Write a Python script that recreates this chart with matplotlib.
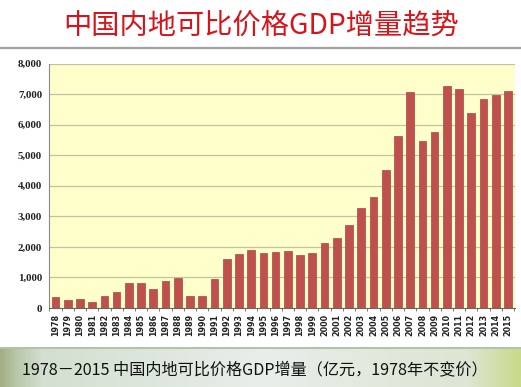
import numpy as np
import matplotlib
matplotlib.use("Agg")
import matplotlib.pyplot as plt
from matplotlib.colors import LinearSegmentedColormap

plt.rcParams['font.family'] = ['Noto Sans CJK SC', 'DejaVu Sans']

YEARS = list(range(1978, 2016))
GDP_INCREMENT = [370, 260, 290, 205, 400, 513, 807, 827, 611, 882,
                 970, 400, 380, 937, 1601, 1775, 1906, 1797, 1819, 1852,
                 1732, 1808, 2134, 2297, 2712, 3278, 3637, 4500, 5621, 7069,
                 5467, 5752, 7255, 7167, 6395, 6840, 6961, 7092]
Y_TICKS = [0, 1000, 2000, 3000, 4000, 5000, 6000, 7000, 8000]

TITLE = "中国内地可比价格GDP增量趋势"
CAPTION = "1978－2015 中国内地可比价格GDP增量（亿元，1978年不变价）"

W, H = 521, 387
fig = plt.figure(figsize=(W / 100, H / 100), dpi=100)
fig.patch.set_facecolor("white")

# ── caption band background (soft green gradient) ───────────────────────────
band = fig.add_axes([0, 0, 1, 40 / H])
grad_cmap = LinearSegmentedColormap.from_list(
    "band", [(0.0, "#a3ae86"), (0.03, "#b9c7a8"), (0.08, "#d3dfd0"),
             (0.5, "#e8eee9"), (0.9, "#dde5d4"), (1.0, "#c9da8a")])
band.imshow(np.linspace(0, 1, 256)[None, :], aspect="auto", cmap=grad_cmap,
            extent=[0, 1, 0, 1])
band.axhline(0.98, color="#b4c2a8", lw=1.5)
band.set_xlim(0, 1)
band.set_ylim(0, 1)
band.axis("off")
band.text(0.489, 0.42, CAPTION, ha="center", va="center", fontsize=11.6,
          fontweight="medium", color="#111111")

# ── title + rule ────────────────────────────────────────────────────────────
fig.text(0.501, 1 - 26 / H, TITLE, ha="center", va="center", fontsize=20.3,
         color="#d7141a")
fig.add_artist(plt.Line2D([0, 1], [1 - 48 / H, 1 - 48 / H],
                          color="#a0a0a0", lw=1.6, transform=fig.transFigure))

# ── bar chart ───────────────────────────────────────────────────────────────
ax = fig.add_axes([49 / W, 1 - 308 / H, (515 - 49) / W, (308 - 63.5) / H])
ax.set_facecolor("#ffffcc")
x = np.arange(len(YEARS))
ax.bar(x, GDP_INCREMENT, width=0.63, color="#c0504d", edgecolor="#a84542",
       linewidth=0.5, zorder=3)
ax.set_xlim(-0.53, len(YEARS) - 0.43)
ax.set_ylim(0, 8000)
ax.set_yticks(Y_TICKS)
ax.set_yticklabels([f"{v:,}" for v in Y_TICKS], fontsize=7.8,
                   family="Liberation Serif", fontweight="bold", color="#222222")
ax.yaxis.grid(True, color="#c2c2a4", lw=0.9, zorder=0)
ax.tick_params(axis="y", length=0, pad=5)
ax.set_xticks(x)
ax.set_xticklabels([str(y) for y in YEARS], rotation=90, fontsize=5.8,
                   family="DejaVu Sans", fontweight="bold", color="#222222")
ax.set_xticks(np.arange(-0.5, len(YEARS)), minor=True)
ax.tick_params(axis="x", which="major", length=0, pad=4)
ax.tick_params(axis="x", which="minor", length=2.5, color="#666666")
for side in ("top", "right"):
    ax.spines[side].set_visible(False)
ax.spines["left"].set_color("#888888")
ax.spines["bottom"].set_color("#666666")

fig.savefig("out.png", dpi=100)
